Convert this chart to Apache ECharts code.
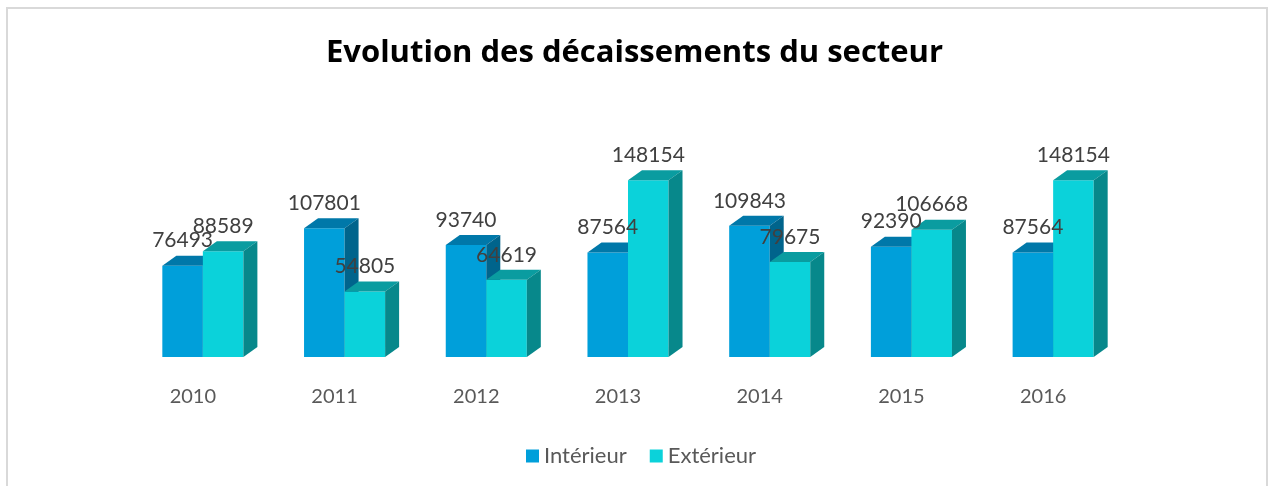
<!DOCTYPE html>
<html lang="fr">
<head>
<meta charset="UTF-8">
<title>Evolution des décaissements du secteur</title>
<script src="https://cdn.jsdelivr.net/npm/echarts@6/dist/echarts.min.js"></script>
<style>
  html, body { margin: 0; padding: 0; background: #fff; }
  #chart { width: 1269px; height: 486px; }
</style>
</head>
<body>
<div id="chart"></div>
<script>
// données
var annees = ['2010', '2011', '2012', '2013', '2014', '2015', '2016'];
var interieur = [76493, 107801, 93740, 87564, 109843, 92390, 87564];
var exterieur = [88589, 54805, 64619, 148154, 79675, 106668, 148154];

var FONT = 'Lato';
var DX = 14, DY = 10; // profondeur du faux 3D

// couleurs : face avant, dessus, côté
var couleurs = {
    int: ['#009fda', '#0078a9', '#00648c'],
    ext: ['#0bd2da', '#0a9ca0', '#07888b']
};

function barre3d(side, c) {
    return function (params, api) {
        var idx = api.value(0);
        var haut = api.coord([idx, api.value(1)]);
        var bas = api.coord([idx, 0]);
        var bw = api.size([1, 0])[0] * 0.286;
        var x0 = side === 'int' ? haut[0] - bw : haut[0];
        var x1 = x0 + bw;
        var yt = haut[1], yb = bas[1];
        return {
            type: 'group',
            children: [
                { type: 'rect', shape: { x: x0, y: yt, width: bw, height: yb - yt },
                  style: { fill: c[0] } },
                { type: 'polygon', shape: { points: [[x0, yt], [x0 + DX, yt - DY], [x1 + DX, yt - DY], [x1, yt]] },
                  style: { fill: c[1] } },
                { type: 'polygon', shape: { points: [[x1, yt], [x1 + DX, yt - DY], [x1 + DX, yb - DY], [x1, yb]] },
                  style: { fill: c[2] } }
            ]
        };
    };
}

function etiquettes(params, api) {
    var idx = api.value(0);
    var bw = api.size([1, 0])[0] * 0.286;
    var out = [];
    [1, 2].forEach(function (k) {
        var p = api.coord([idx, api.value(k)]);
        var cx = k === 1 ? p[0] - bw / 2 : p[0] + bw / 2;
        out.push({
            type: 'text',
            style: {
                x: cx, y: p[1] - 25, text: String(api.value(k)),
                align: 'center', verticalAlign: 'middle',
                fill: '#404040', font: '21px ' + FONT
            }
        });
    });
    return { type: 'group', children: out };
}

var chart = echarts.init(document.getElementById('chart'), null, { renderer: 'canvas' });
chart.setOption({
    backgroundColor: '#ffffff',
    animation: false,
    graphic: [{
        type: 'rect', shape: { x: 7, y: 8, width: 1260, height: 500 },
        style: { fill: 'none', stroke: '#d9d9d9', lineWidth: 2 }, silent: true
    }],
    title: {
        text: 'Evolution des décaissements du secteur',
        left: 'center',
        top: 33,
        textStyle: { fontFamily: 'Open Sans', fontWeight: 'bold', fontSize: 31, color: '#000000' }
    },
    legend: {
        data: ['Intérieur', 'Extérieur'],
        left: 521,
        top: 440,
        icon: 'rect',
        itemWidth: 13,
        itemHeight: 13,
        itemGap: 23,
        textStyle: { fontFamily: FONT, fontSize: 22, color: '#595959' }
    },
    grid: { left: 132, right: 145, top: 166, bottom: 129 },
    xAxis: {
        type: 'category',
        data: annees,
        axisLine: { show: false },
        axisTick: { show: false },
        axisLabel: {
            margin: 30,
            padding: [0, 20, 0, 0],
            fontFamily: FONT, fontSize: 20, color: '#595959'
        }
    },
    yAxis: {
        type: 'value',
        min: 0,
        max: 160000,
        show: false,
        splitLine: { show: false }
    },
    series: [
        {
            name: 'Intérieur', type: 'custom',
            itemStyle: { color: couleurs.int[0] },
            renderItem: barre3d('int', couleurs.int),
            encode: { x: 0, y: 1 },
            data: annees.map(function (a, i) { return [i, interieur[i]]; })
        },
        {
            name: 'Extérieur', type: 'custom',
            itemStyle: { color: couleurs.ext[0] },
            renderItem: barre3d('ext', couleurs.ext),
            encode: { x: 0, y: 1 },
            data: annees.map(function (a, i) { return [i, exterieur[i]]; })
        },
        {
            name: 'etiquettes', type: 'custom', z: 5, silent: true,
            renderItem: etiquettes,
            encode: { x: 0, y: [1, 2] },
            data: annees.map(function (a, i) { return [i, interieur[i], exterieur[i]]; })
        }
    ]
});
</script>
</body>
</html>
